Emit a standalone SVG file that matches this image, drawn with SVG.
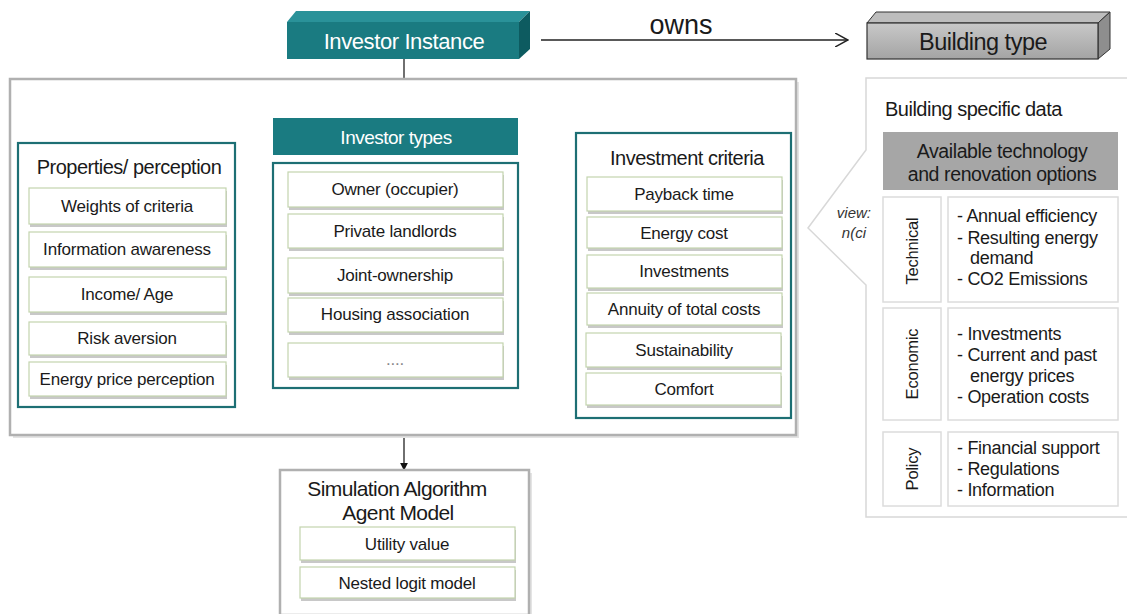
<svg xmlns="http://www.w3.org/2000/svg" width="1127" height="614" viewBox="0 0 1127 614">
<defs>
<marker id="arrF" viewBox="0 0 10 10" refX="9" refY="5" markerWidth="8" markerHeight="8" markerUnits="userSpaceOnUse" orient="auto"><path d="M0,0 L10,5 L0,10 z" fill="#111"/></marker>
<marker id="arrO" viewBox="0 0 14 14" refX="13" refY="7" markerWidth="14" markerHeight="14" markerUnits="userSpaceOnUse" orient="auto"><path d="M0,0 L13,7 L0,14" fill="none" stroke="#222" stroke-width="1.5"/></marker>
<linearGradient id="gray" x1="0" y1="0" x2="0" y2="1"><stop offset="0" stop-color="#c8c8c8"/><stop offset="1" stop-color="#a4a4a4"/></linearGradient>
</defs>
<style>
text{font-family:"Liberation Sans",Arial,sans-serif;fill:#1a1a1a}
.it{fill:#fff;stroke:#c3d4ae;stroke-width:1.2}
.sh{fill:#c8c8c8}
.t15{font-size:17px;text-anchor:middle;letter-spacing:-0.2px}
.tt{font-size:20px;text-anchor:middle;letter-spacing:-0.5px}
.teal{fill:none;stroke:#1d6f74;stroke-width:2.2}
.gbox{fill:#fff;stroke:#dcdcdc;stroke-width:1.5}
.lst{font-size:18px;letter-spacing:-0.3px}
.vl{font-size:16.5px;text-anchor:middle;letter-spacing:-0.2px}
.ln{stroke:#222;stroke-width:1.3;fill:none}
</style>
<rect width="1127" height="614" fill="#fff"/>

<g id="connectors">
<line class="ln" x1="404" y1="59" x2="404" y2="80"/>
<line class="ln" x1="541" y1="40" x2="848" y2="40" marker-end="url(#arrO)"/>
<text x="681" y="34" font-size="27" text-anchor="middle">owns</text>
<line class="ln" x1="235" y1="275" x2="273" y2="275"/>
<line class="ln" x1="518" y1="277" x2="576" y2="277" marker-end="url(#arrF)"/>
<line class="ln" x1="404" y1="437" x2="404" y2="470" marker-end="url(#arrF)"/>
</g>

<g id="investor-instance">
<polygon points="287,22 296,11 530,11 519,22" fill="#2a9299"/>
<polygon points="519,22 530,11 530,49 519,59" fill="#0d5b60"/>
<rect x="287" y="22" width="232" height="37" fill="#1a7b81"/>
<text x="404" y="49" font-size="22" text-anchor="middle" style="fill:#fff;letter-spacing:-0.4px">Investor Instance</text>
</g>

<g id="building-type">
<polygon points="867,23 876,12 1110,12 1098,23" fill="#bdbdbd" stroke="#333" stroke-width="1"/>
<polygon points="1098,23 1110,12 1110,49 1098,59" fill="#8e8e8e" stroke="#333" stroke-width="1"/>
<rect x="867" y="23" width="231" height="36" fill="url(#gray)" stroke="#333" stroke-width="1.2"/>
<text x="983" y="50" font-size="23.5" text-anchor="middle" style="letter-spacing:-0.5px">Building type</text>
</g>

<g id="outer-box">
<rect x="13" y="82" width="786" height="356" fill="#e4e4e4"/>
<rect x="10" y="79" width="786" height="356" fill="#fff" stroke="#b0b0b0" stroke-width="2.5"/>
</g>

<g id="properties">
<rect x="18" y="143" width="217" height="264" class="teal"/>
<text x="129" y="174" class="tt">Properties/ perception</text>
<rect class="sh" x="30" y="191" width="197" height="36"/><rect class="it" x="29" y="188" width="197" height="36"/><text class="t15" x="127" y="212">Weights of criteria</text>
<rect class="sh" x="30" y="235" width="197" height="35"/><rect class="it" x="29" y="232" width="197" height="35"/><text class="t15" x="127" y="255">Information awareness</text>
<rect class="sh" x="30" y="280" width="197" height="35"/><rect class="it" x="29" y="277" width="197" height="35"/><text class="t15" x="127" y="300">Income/ Age</text>
<rect class="sh" x="30" y="325" width="197" height="33"/><rect class="it" x="29" y="322" width="197" height="33"/><text class="t15" x="127" y="344">Risk aversion</text>
<rect class="sh" x="30" y="365" width="197" height="34"/><rect class="it" x="29" y="362" width="197" height="34"/><text class="t15" x="127" y="385">Energy price perception</text>
</g>

<g id="investor-types">
<rect x="273" y="118" width="245" height="37" fill="#1a7b81"/>
<text x="396" y="144" class="tt" style="fill:#fff;font-size:19px">Investor types</text>
<rect x="273" y="163" width="245" height="225" class="teal"/>
<rect class="sh" x="289" y="175" width="215" height="35"/><rect class="it" x="288" y="172" width="215" height="35"/><text class="t15" x="395" y="195">Owner (occupier)</text>
<rect class="sh" x="289" y="217" width="215" height="34"/><rect class="it" x="288" y="214" width="215" height="34"/><text class="t15" x="395" y="237">Private landlords</text>
<rect class="sh" x="289" y="261" width="215" height="35"/><rect class="it" x="288" y="258" width="215" height="35"/><text class="t15" x="395" y="281">Joint-ownership</text>
<rect class="sh" x="289" y="301" width="215" height="34"/><rect class="it" x="288" y="298" width="215" height="34"/><text class="t15" x="395" y="320">Housing  association</text>
<rect class="sh" x="289" y="346" width="215" height="34"/><rect class="it" x="288" y="343" width="215" height="34"/><text class="t15" x="395" y="365" style="fill:#888">....</text>
</g>

<g id="investment-criteria">
<rect x="576" y="133" width="215" height="285" class="teal"/>
<text x="687" y="165" class="tt">Investment criteria</text>
<rect class="sh" x="588" y="180" width="195" height="34"/><rect class="it" x="587" y="177" width="195" height="34"/><text class="t15" x="684" y="200">Payback time</text>
<rect class="sh" x="588" y="220" width="195" height="31"/><rect class="it" x="587" y="217" width="195" height="31"/><text class="t15" x="684" y="239">Energy cost</text>
<rect class="sh" x="588" y="258" width="195" height="33"/><rect class="it" x="587" y="255" width="195" height="33"/><text class="t15" x="684" y="277">Investments</text>
<rect class="sh" x="588" y="296" width="195" height="32"/><rect class="it" x="587" y="293" width="195" height="32"/><text class="t15" x="684" y="315">Annuity of total costs</text>
<rect class="sh" x="587" y="336" width="195" height="34"/><rect class="it" x="586" y="333" width="195" height="34"/><text class="t15" x="684" y="356">Sustainability</text>
<rect class="sh" x="587" y="376" width="195" height="32"/><rect class="it" x="586" y="373" width="195" height="32"/><text class="t15" x="684" y="395">Comfort</text>
</g>

<g id="simulation">
<rect x="283" y="473" width="249" height="145" fill="#e4e4e4"/>
<rect x="280" y="470" width="249" height="145" fill="#fff" stroke="#b0b0b0" stroke-width="2.5"/>
<text x="397" y="496" font-size="21" text-anchor="middle" style="letter-spacing:-0.6px">Simulation Algorithm</text>
<text x="398" y="520" font-size="21" text-anchor="middle" style="letter-spacing:-0.6px">Agent Model</text>
<rect class="sh" x="301" y="530" width="215" height="33"/><rect class="it" x="300" y="527" width="215" height="33"/><text class="t15" x="407" y="550">Utility value</text>
<rect class="sh" x="301" y="570" width="215" height="31"/><rect class="it" x="300" y="567" width="215" height="31"/><text class="t15" x="407" y="589">Nested logit model</text>
</g>

<g id="building-data">
<path d="M1127,78 L866,78 L866,150 L808,228 L866,285 L866,517 L1127,517" fill="#fff" stroke="#d8d8d8" stroke-width="1.5"/>
<text x="871" y="218" font-size="15" text-anchor="end" font-style="italic" style="fill:#333">view:</text>
<text x="866" y="238" font-size="15" text-anchor="end" font-style="italic" style="fill:#333">n(ci</text>
<text x="885" y="116" font-size="20" style="letter-spacing:-0.5px">Building specific data</text>
<rect x="883" y="132" width="235" height="58" fill="#a6a6a6"/>
<text x="1002" y="158" font-size="19.5" text-anchor="middle" style="letter-spacing:-0.4px">Available technology</text>
<text x="1002" y="181" font-size="19.5" text-anchor="middle" style="letter-spacing:-0.4px">and renovation options</text>

<rect class="gbox" x="883" y="197" width="58" height="105"/>
<text transform="translate(918,251) rotate(-90)" class="vl">Technical</text>
<rect class="gbox" x="948" y="197" width="170" height="105"/>
<text class="lst" x="957" y="222">- Annual efficiency</text>
<text class="lst" x="957" y="244">- Resulting energy</text>
<text class="lst" x="970" y="264">demand</text>
<text class="lst" x="957" y="285">- CO2 Emissions</text>

<rect class="gbox" x="883" y="308" width="58" height="112"/>
<text transform="translate(918,364) rotate(-90)" class="vl">Economic</text>
<rect class="gbox" x="948" y="308" width="170" height="112"/>
<text class="lst" x="957" y="340">- Investments</text>
<text class="lst" x="957" y="361">- Current and past</text>
<text class="lst" x="970" y="382">energy prices</text>
<text class="lst" x="957" y="403">- Operation costs</text>

<rect class="gbox" x="883" y="432" width="58" height="74"/>
<text transform="translate(918,469) rotate(-90)" class="vl">Policy</text>
<rect class="gbox" x="948" y="432" width="170" height="74"/>
<text class="lst" x="957" y="454">- Financial support</text>
<text class="lst" x="957" y="475">- Regulations</text>
<text class="lst" x="957" y="496">- Information</text>
</g>
</svg>
